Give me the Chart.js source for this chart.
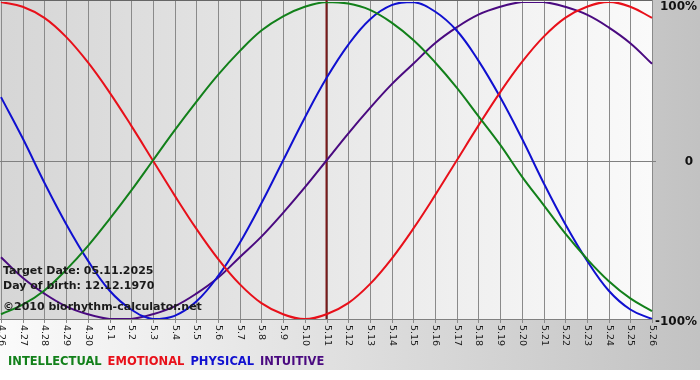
<!DOCTYPE html>
<html>
<head>
<meta charset="utf-8">
<script src="https://cdn.jsdelivr.net/npm/chart.js@4.4.1/dist/chart.umd.min.js"></script>
<style>
  html, body { margin: 0; padding: 0; background: #fff; }
  #wrap { position: relative; width: 700px; height: 370px; }
</style>
</head>
<body>
<div id="wrap"><canvas id="bio"></canvas></div>
<script>
var days = ['4.26', '4.27', '4.28', '4.29', '4.30', '5.1', '5.2', '5.3', '5.4', '5.5', '5.6', '5.7', '5.8', '5.9', '5.10',
    '5.11', '5.12', '5.13', '5.14', '5.15', '5.16', '5.17', '5.18', '5.19', '5.20', '5.21', '5.22', '5.23', '5.24', '5.25', '5.26'];

var intellectual = [-0.97, -0.91, -0.82, -0.69, -0.54, -0.37, -0.19, 0, 0.19, 0.37, 0.54, 0.69, 0.82, 0.91, 0.97,
    1.00, 0.99, 0.95, 0.87, 0.76, 0.62, 0.46, 0.28, 0.10, -0.10, -0.28, -0.46, -0.62, -0.76, -0.87, -0.95];
var emotional = [1.00, 0.97, 0.90, 0.78, 0.62, 0.43, 0.22, 0, -0.22, -0.43, -0.62, -0.78, -0.90, -0.97, -1.00,
    -0.97, -0.90, -0.78, -0.62, -0.43, -0.22, 0, 0.22, 0.43, 0.62, 0.78, 0.90, 0.97, 1.00, 0.97, 0.90];
var physical = [0.40, 0.14, -0.14, -0.40, -0.63, -0.82, -0.94, -1.00, -0.98, -0.89, -0.73, -0.52, -0.27, 0, 0.27,
    0.52, 0.73, 0.89, 0.98, 1.00, 0.94, 0.82, 0.63, 0.40, 0.14, -0.14, -0.40, -0.63, -0.82, -0.94, -1.00];
var intuitive = [-0.61, -0.74, -0.84, -0.92, -0.97, -1.00, -1.00, -0.97, -0.92, -0.84, -0.74, -0.61, -0.48, -0.33, -0.17,
    0, 0.17, 0.33, 0.48, 0.61, 0.74, 0.84, 0.92, 0.97, 1.00, 1.00, 0.97, 0.92, 0.84, 0.74, 0.61];

var yTicks = [1, 0, -1];
var yTickLabels = ['100%', '0', '-100%'];
var targetDay = '5.11';
var infoLines = ['Target Date: 05.11.2025', 'Day of birth: 12.12.1970', '\u00a92010 biorhythm-calculator.net'];
var legendNames = ['INTELLECTUAL', 'EMOTIONAL', 'PHYSICAL', 'INTUITIVE'];

(function () {
    'use strict';

    var colors = ['#12801a', '#e8101a', '#1010d0', '#4a0a80'];
    var series = [intellectual, emotional, physical, intuitive];

    // backgrounds, grid and labels, all positioned from the chart's scales
    var decor = {
        id: 'decor',
        beforeDraw: function (chart) {
            var ctx = chart.ctx, a = chart.chartArea;
            var x = chart.scales.x, y = chart.scales.y;
            ctx.save();
            var bg = ctx.createLinearGradient(0, 0, chart.width, 0);
            bg.addColorStop(0, '#fbfbfb');
            bg.addColorStop(1, '#c2c2c2');
            ctx.fillStyle = bg;
            ctx.fillRect(0, 0, chart.width, chart.height);

            var pg = ctx.createLinearGradient(a.left, 0, a.right, 0);
            pg.addColorStop(0, '#d6d6d6');
            pg.addColorStop(1, '#fafafa');
            ctx.fillStyle = pg;
            ctx.fillRect(0, 0, a.right, a.bottom);

            ctx.lineWidth = 1;
            ctx.strokeStyle = '#8a8a8a';
            days.forEach(function (d, i) {
                var px = Math.round(x.getPixelForValue(i)) + 0.5;
                ctx.beginPath();
                ctx.moveTo(px, 0);
                ctx.lineTo(px, a.bottom + 4);
                ctx.stroke();
            });
            ctx.strokeStyle = '#808080';
            ctx.beginPath();
            var z = Math.round(y.getPixelForValue(0)) + 0.5;
            ctx.moveTo(0, z); ctx.lineTo(a.right + 4, z);
            var b = Math.round(a.bottom) + 0.5;
            ctx.moveTo(0, b); ctx.lineTo(a.right, b);
            ctx.stroke();
            ctx.strokeStyle = '#666';
            ctx.beginPath();
            ctx.moveTo(0, 0.5); ctx.lineTo(a.right, 0.5);
            ctx.stroke();

            // target day marker
            var tx = x.getPixelForValue(days.indexOf(targetDay));
            ctx.strokeStyle = '#7a1a1a';
            ctx.lineWidth = 2;
            ctx.beginPath();
            ctx.moveTo(tx, 0); ctx.lineTo(tx, a.bottom);
            ctx.stroke();

            // rotated day labels
            ctx.fillStyle = '#1a1a1a';
            ctx.font = '9.5px "DejaVu Sans"';
            ctx.textAlign = 'left';
            ctx.textBaseline = 'middle';
            days.forEach(function (d, i) {
                ctx.save();
                ctx.translate(x.getPixelForValue(i) + 0.5, a.bottom + 6);
                ctx.rotate(Math.PI / 2);
                ctx.fillText(d, 0, 0);
                ctx.restore();
            });

            // percent labels on the right
            ctx.font = 'bold 12px "DejaVu Sans"';
            ctx.textAlign = 'right';
            ctx.fillStyle = '#111';
            yTicks.forEach(function (v, i) {
                var py = y.getPixelForValue(v) + (v > 0 ? 5 : (v < 0 ? 3 : 1));
                ctx.fillText(yTickLabels[i], v === 0 ? 693 : 697, py);
            });

            // legend row
            ctx.font = 'bold 11.5px "DejaVu Sans"';
            ctx.textAlign = 'left';
            var lx = 8;
            legendNames.forEach(function (name, i) {
                ctx.fillStyle = colors[i];
                ctx.fillText(name, lx, 362);
                lx += ctx.measureText(name).width + 6;
            });
            ctx.restore();
        },
        afterDatasetsDraw: function (chart) {
            var ctx = chart.ctx;
            ctx.save();
            ctx.font = 'bold 11px "DejaVu Sans"';
            ctx.fillStyle = '#1a1a1a';
            ctx.textBaseline = 'middle';
            ctx.fillText(infoLines[0], 3, 271);
            ctx.fillText(infoLines[1], 3, 286);
            ctx.fillText(infoLines[2], 3, 307);
            ctx.restore();
        }
    };

    new Chart(document.getElementById('bio'), {
        type: 'line',
        data: {
            labels: days,
            datasets: legendNames.map(function (name, i) {
                return {
                    label: name,
                    data: series[i],
                    borderColor: colors[i],
                    borderWidth: 2,
                    pointRadius: 0,
                    tension: 0.4,
                    fill: false
                };
            })
        },
        options: {
            responsive: true,
            maintainAspectRatio: false,
            animation: false,
            layout: { padding: { left: 1, right: 48, top: 2, bottom: 51 } },
            plugins: { legend: { display: false }, tooltip: { enabled: false } },
            scales: {
                x: { display: false },
                y: { display: false, min: -1, max: 1 }
            }
        },
        plugins: [decor]
    });
})();
</script>
</body>
</html>
